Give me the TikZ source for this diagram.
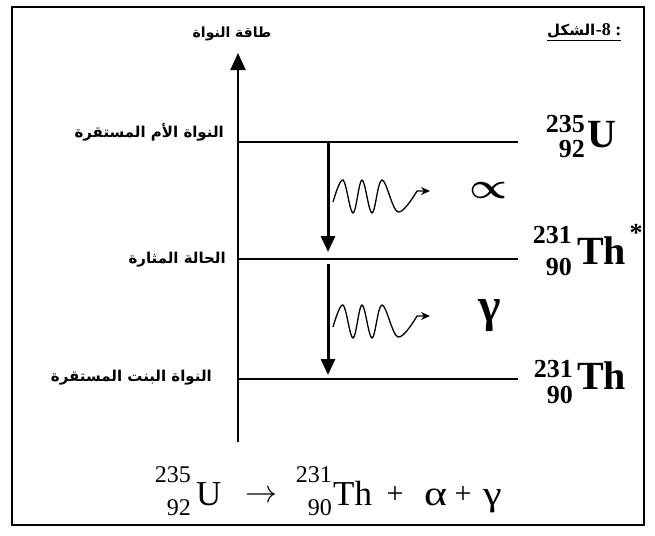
\documentclass[tikz,border=0pt]{standalone}
\usepackage{fontspec}
\setmainfont{Liberation Serif}
\newfontfamily\arb[Script=Arabic]{DejaVu Sans}
\TeXXeTstate=1
\usetikzlibrary{arrows.meta}
\tikzset{
  frame/.style={line width=1.4pt},
  lvl/.style={line width=1.5pt},
  axisline/.style={line width=2pt,-{Triangle[length=17pt,width=15pt]}},
  decay/.style={line width=3pt,-{Triangle[length=16pt,width=14pt]}},
  wave/.style={line width=1.3pt,-{Stealth[length=9pt,width=8pt]}},
  arlabel/.style={font=\arb\bfseries\fontsize{15}{17}\selectfont,inner sep=0pt,anchor=east},
  nuc/.style={font=\bfseries\fontsize{40}{40}\selectfont,inner sep=0pt,anchor=base west},
  nucs/.style={font=\bfseries\fontsize{26}{26}\selectfont,inner sep=0pt,anchor=base east},
  eqm/.style={font=\fontsize{35}{35}\selectfont,inner sep=0pt,anchor=base west},
  eqs/.style={font=\fontsize{24}{24}\selectfont,inner sep=0pt,anchor=base east},
}
\begin{document}
\begin{tikzpicture}[x=1pt,y=-1pt]
\useasboundingbox (0,0) rectangle (655,535);
\draw[frame] (12,7) rectangle (644,525);

% title
\node[inner sep=0pt,anchor=base west,font=\arb\bfseries\fontsize{15}{17}\selectfont] (figw) at (547,36) {\beginR الشكل\endR};
\node[inner sep=0pt,anchor=base west,font=\bfseries\fontsize{18}{18}\selectfont] (fign) at (figw.base east) {-8 :};
\draw[line width=1.3pt] (figw.base west) ++(0,4.5) coordinate (ul1) -- (fign.base east |- ul1);

\node[inner sep=0pt,font=\arb\bfseries\fontsize{14}{16}\selectfont] (energy) at (232,34) {\beginR طاقة النواة\endR};

% axis
\coordinate (a0) at (238,442);
\coordinate (a1) at (238,53);
\draw[axisline] (a0) -- (a1);

% levels
\coordinate (l1s) at (238,142); \coordinate (l1e) at (518,142);
\coordinate (l2s) at (238,259); \coordinate (l2e) at (518,259);
\coordinate (l3s) at (238,379); \coordinate (l3e) at (518,379);
\draw[lvl] (l1s) -- (l1e);
\draw[lvl] (l2s) -- (l2e);
\draw[lvl] (l3s) -- (l3e);

% left labels
\node[arlabel] (lab1) at (224,132) {\beginR النواة الأم المستقرة\endR};
\node[arlabel] (lab2) at (226,260) {\beginR الحالة المثارة\endR};
\node[arlabel] (lab3) at (212,378) {\beginR النواة البنت المستقرة\endR};

% decay arrows
\coordinate (d1s) at (328,143); \coordinate (d1e) at (328,252);
\coordinate (d2s) at (328,264); \coordinate (d2e) at (328,375);
\draw[decay] (d1s) -- (d1e);
\draw[decay] (d2s) -- (d2e);

% waves
\draw[wave] plot[smooth,tension=0.6] coordinates {(333,202) (343,180) (353,213) (362,180) (372,213) (382,180) (398,212) (417,191)} -- (430,191);
\draw[wave] plot[smooth,tension=0.6] coordinates {(333,327) (343,305) (353,338) (362,305) (372,338) (382,305) (398,337) (417,316)} -- (430,316);

\node[inner sep=0pt] (alpha) at (488,190) {\resizebox{38pt}{16pt}{\boldmath$\propto$}};
\node[inner sep=0pt,font=\bfseries\fontsize{48}{48}\selectfont] (gamma) at (490,316) {γ};

% right nuclide labels
\node[nuc] (U) at (587,147) {U};
\node[nucs] (Ua) at (585,132) {235};
\node[nucs] (Uz) at (585,157) {92};

\node[nuc] (Ths) at (577,264) {Th};
\node[nucs] (Thsa) at (572,243) {231};
\node[nucs] (Thsz) at (572,275) {90};
\node[inner sep=0pt,font=\bfseries\fontsize{26}{26}\selectfont] (star) at (636,233) {*};

\node[nuc] (Th) at (577,389) {Th};
\node[nucs] (Tha) at (573,377) {231};
\node[nucs] (Thz) at (573,403) {90};

% equation
\node[eqm] (eU) at (196,505) {U};
\node[eqs] (eUa) at (191,482) {235};
\node[eqs] (eUz) at (191,515) {92};
\node[inner sep=0pt] (earr) at (261,497) {\resizebox{32pt}{!}{$\rightarrow$}};
\node[eqm] (eTh) at (333,505) {Th};
\node[eqs] (eTha) at (332,482) {231};
\node[eqs] (eThz) at (332,515) {90};
\node[inner sep=0pt,font=\fontsize{30}{30}\selectfont] (p1) at (395,495) {+};
\node[eqm] (ea) at (424,505) {\scalebox{1.25}[1]{α}};
\node[inner sep=0pt,font=\fontsize{30}{30}\selectfont] (p2) at (463,495) {+};
\node[eqm] (eg) at (483,505) {\scalebox{1.2}[1]{γ}};
\end{tikzpicture}
\end{document}
